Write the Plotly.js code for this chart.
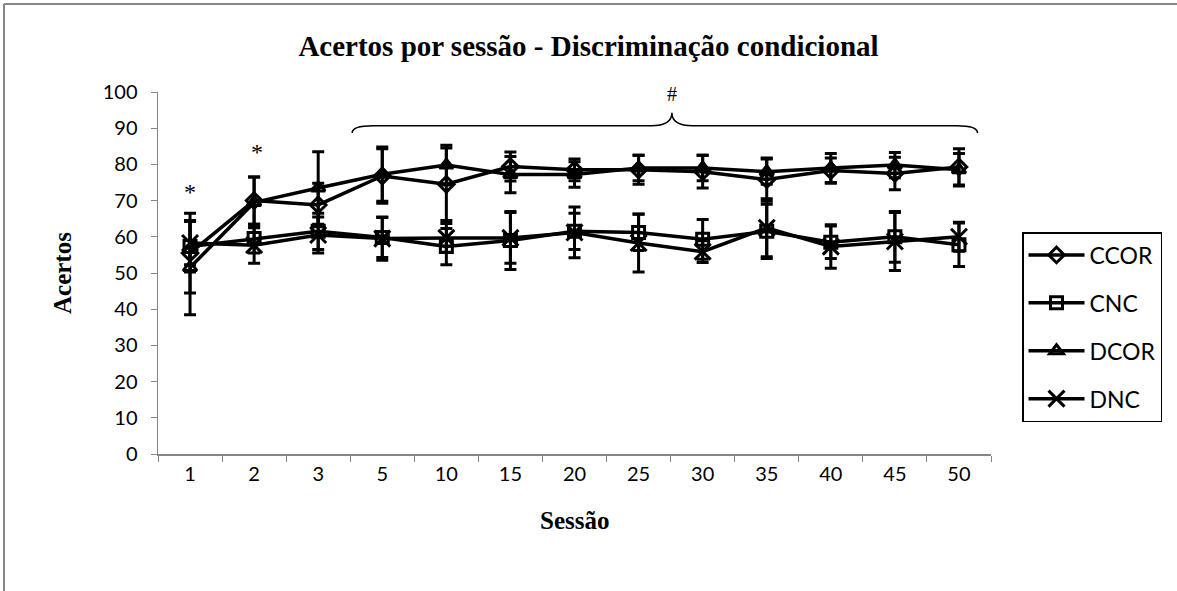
<!DOCTYPE html>
<html><head><meta charset="utf-8">
<script src="https://cdn.plot.ly/plotly-3.0.1.min.js"></script>
<style>html,body{margin:0;padding:0;background:#fff}#chart{width:1177px;height:591px}</style>
</head><body><div id="chart"></div>
<script>
// Data
const categories = ['1','2','3','5','10','15','20','25','30','35','40','45','50'];
const seriesNames = ['CCOR','CNC','DCOR','DNC'];
const ccor = [55.5, 70, 68.8, 76.8, 74.5, 79.4, 78.5, 78.5, 78, 75.8, 78.3, 77.5, 79.3];
const cnc  = [57.3, 59.5, 61.5, 59.8, 57.3, 59, 61.5, 61.2, 59.3, 61.5, 58.5, 60, 57.8];
const dcor = [51.5, 69.5, 73.5, 77.3, 79.8, 77.2, 77.2, 79, 79, 78, 79, 79.8, 78.5];
const dnc  = [58.3, 57.7, 60.5, 59.5, 59.7, 59.7, 61.2, 58.3, 55.9, 62.5, 57.3, 58.7, 60];
const ccorErr = [11, 6.5, 6, 7.5, 10, 4, 3, 4, 4.5, 6, 3.5, 4.5, 5];
const cncErr  = [7, 4, 5, 5.5, 5, 8, 5, 5, 5.5, 7.5, 4.5, 7, 6];
const dcorErr = [13, 7, 10, 7.5, 5.5, 5, 3.5, 3.5, 3.5, 3.5, 4, 3.5, 4.5];
const dncErr  = [6, 5, 5, 6, 4, 7, 7, 8, 3, 8, 6, 8, 4];
const symbols = ['diamond-open','square-open','triangle-up-open','x-thin-open'];
const yTicks = [0,10,20,30,40,50,60,70,80,90,100];

const W = 1177, H = 591;
const M = {l:158, r:186, t:92, b:137};
const pw = W - M.l - M.r, ph = H - M.t - M.b;
const px2paperX = p => (p - M.l) / pw;
const px2paperY = p => (H - M.b - p) / ph;

const vals = [ccor, cnc, dcor, dnc];
const errs = [ccorErr, cncErr, dcorErr, dncErr];
const traces = seriesNames.map((name, i) => ({
  type: 'scatter', mode: 'lines+markers', name: name,
  x: categories, y: vals[i], legendgroup: name,
  line: {color: '#000', width: 3.5},
  marker: {symbol: symbols[i], size: i === 3 ? 16 : 12, color: '#000', line: {color: '#000', width: 3}},
  error_y: {type: 'data', array: errs[i], visible: true, color: '#000', thickness: 3, width: 6}
}));

// Brace over sessions 5..50 (paper coordinates derived from category index / value)
const nCat = categories.length;
const cx = idx => (idx + 0.5) / nCat;
const xb0 = cx(2.53), xb1 = cx(12.29), xbm = cx(7.52);
const yEnd = 88.7/100, yLine = 90.7/100, yTip = 94.3/100;
const dx = 0.025;
const bracePath = `M ${xb0},${yEnd} Q ${xb0},${yLine} ${xb0+dx},${yLine} L ${xbm-dx},${yLine} Q ${xbm},${yLine} ${xbm},${yTip} Q ${xbm},${yLine} ${xbm+dx},${yLine} L ${xb1-dx},${yLine} Q ${xb1},${yLine} ${xb1},${yEnd}`;

const layout = {
  width: W, height: H,
  margin: M,
  paper_bgcolor: '#fff', plot_bgcolor: '#fff',
  showlegend: true,
  title: {text: 'Acertos por sessão - Discriminação condicional', x: 0.5, xref: 'container', y: 1 - 46/H, yref: 'container', yanchor: 'middle',
          font: {family: 'Liberation Serif', size: 29, color: '#000', weight: 'bold'}},
  xaxis: {type: 'category', range: [-0.5, nCat - 0.5], tickson: 'boundaries', ticks: 'outside', ticklen: 6, tickcolor: '#868686',
          showline: true, linecolor: '#868686', linewidth: 1.5, showgrid: false, zeroline: false, ticklabelstandoff: 1,
          tickfont: {family: 'Lato', size: 20, color: '#000'}},
  yaxis: {range: [0, 100], tickvals: yTicks, ticks: 'outside', ticklen: 6, tickcolor: '#868686',
          showline: true, linecolor: '#868686', linewidth: 1.5, showgrid: false, zeroline: false, ticklabelstandoff: 9,
          tickfont: {family: 'Lato', size: 20, color: '#000'}},
  legend: {x: px2paperX(1022), y: px2paperY(232), xanchor: 'left', yanchor: 'top', itemwidth: 56,
           bordercolor: '#000', borderwidth: 1.5, bgcolor: '#fff', tracegroupgap: 15,
           font: {family: 'Lato', size: 23, color: '#000'}},
  shapes: [
    {type: 'path', xref: 'paper', yref: 'paper', path: bracePath, line: {color: '#000', width: 1.5}},
    {type: 'line', xref: 'paper', yref: 'paper', x0: px2paperX(4), x1: px2paperX(W + 5), y0: px2paperY(4), y1: px2paperY(4), line: {color: '#868686', width: 2}},
    {type: 'line', xref: 'paper', yref: 'paper', x0: px2paperX(4), x1: px2paperX(4), y0: px2paperY(4), y1: px2paperY(H + 5), line: {color: '#868686', width: 2}}
  ],
  annotations: [
    {text: '*', xref: 'x', yref: 'y', x: 0, y: 72.5, xanchor: 'center', yanchor: 'middle', showarrow: false, font: {family: 'Liberation Serif', size: 24, color: '#000'}},
    {text: '*', xref: 'x', yref: 'y', x: 1.05, y: 83.5, xanchor: 'center', yanchor: 'middle', showarrow: false, font: {family: 'Liberation Serif', size: 24, color: '#000'}},
    {text: '#', xref: 'paper', yref: 'paper', x: xbm, y: px2paperY(94), xanchor: 'center', yanchor: 'middle', showarrow: false, font: {family: 'Liberation Serif', size: 20, color: '#000'}},
    {text: 'Acertos', xref: 'paper', yref: 'paper', x: px2paperX(62), y: px2paperY(273), xanchor: 'center', yanchor: 'middle', textangle: -90, showarrow: false,
     font: {family: 'Liberation Serif', size: 25, color: '#000', weight: 'bold'}},
    {text: 'Sessão', xref: 'paper', yref: 'paper', x: px2paperX(574), y: px2paperY(520), xanchor: 'center', yanchor: 'middle', showarrow: false,
     font: {family: 'Liberation Serif', size: 25, color: '#000', weight: 'bold'}}
  ]
};
Plotly.newPlot('chart', traces, layout, {displayModeBar: false, staticPlot: true});
</script></body></html>
